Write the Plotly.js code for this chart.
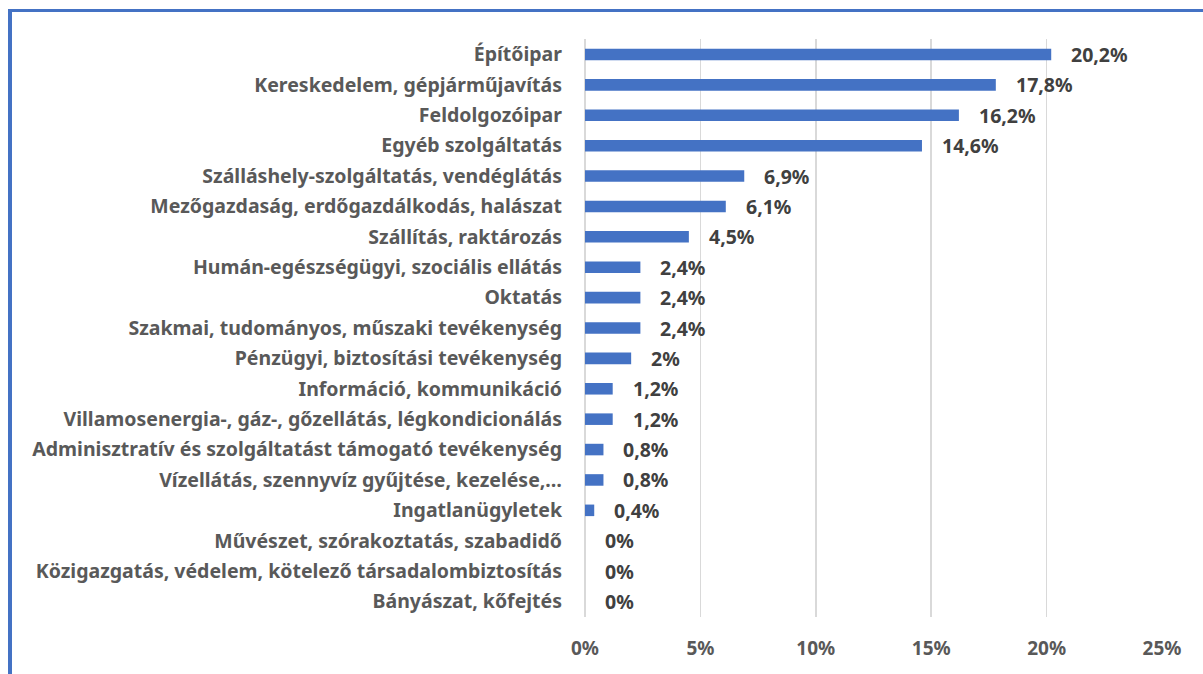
<!DOCTYPE html>
<html>
<head>
<meta charset="utf-8">
<script src="https://cdn.plot.ly/plotly-3.0.1.min.js"></script>
<style>
html,body{margin:0;padding:0;background:#fff;}
#wrap{position:relative;width:1203px;height:674px;overflow:hidden;}
#chart{position:absolute;left:0;top:0;width:1203px;height:674px;}
#btop{position:absolute;left:8px;top:9px;width:1195px;height:0;border-top:3.5px solid #4472C4;}
#bleft{position:absolute;left:8px;top:9px;width:0;height:665px;border-left:4px solid #4472C4;}
</style>
</head>
<body>
<div id="wrap">
<div id="chart"></div>
<div id="btop"></div>
<div id="bleft"></div>
</div>
<script>
const categories = [
  "Építőipar",
  "Kereskedelem, gépjárműjavítás",
  "Feldolgozóipar",
  "Egyéb szolgáltatás",
  "Szálláshely-szolgáltatás, vendéglátás",
  "Mezőgazdaság, erdőgazdálkodás, halászat",
  "Szállítás, raktározás",
  "Humán-egészségügyi, szociális ellátás",
  "Oktatás",
  "Szakmai, tudományos, műszaki tevékenység",
  "Pénzügyi, biztosítási tevékenység",
  "Információ, kommunikáció",
  "Villamosenergia-, gáz-, gőzellátás, légkondicionálás",
  "Adminisztratív és szolgáltatást támogató tevékenység",
  "Vízellátás, szennyvíz gyűjtése, kezelése,…",
  "Ingatlanügyletek",
  "Művészet, szórakoztatás, szabadidő",
  "Közigazgatás, védelem, kötelező társadalombiztosítás",
  "Bányászat, kőfejtés"
];
const values = [20.2, 17.8, 16.2, 14.6, 6.9, 6.1, 4.5, 2.4, 2.4, 2.4, 2.0, 1.2, 1.2, 0.8, 0.8, 0.4, 0, 0, 0];
const valueLabels = ["20,2%","17,8%","16,2%","14,6%","6,9%","6,1%","4,5%","2,4%","2,4%","2,4%","2%","1,2%","1,2%","0,8%","0,8%","0,4%","0%","0%","0%"];
const tickVals = [0,5,10,15,20,25];
const tickText = ["0%","5%","10%","15%","20%","25%"];

const FONT = "Noto Sans, DejaVu Sans, sans-serif";

const trace = {
  type: "bar",
  orientation: "h",
  x: values,
  y: categories,
  marker: {color: "#4472C4"},
  hoverinfo: "skip"
};

const annotations = values.map((v, i) => ({
  x: v, y: categories[i], xref: "x", yref: "y",
  text: "<b>" + valueLabels[i] + "</b>",
  showarrow: false, xanchor: "left", yanchor: "middle", xshift: 18,
  font: {family: FONT, size: 19.5, color: "#404040"}
}));

const layout = {
  width: 1203, height: 674,
  margin: {l: 585, r: 41, t: 39, b: 57},
  paper_bgcolor: "#ffffff",
  plot_bgcolor: "#ffffff",
  showlegend: false,
  bargap: 0.62,
  xaxis: {
    range: [0, 25],
    tickvals: tickVals,
    ticktext: tickText.map(t => "<b>" + t + "</b>"),
    showgrid: true,
    gridcolor: "#d9d9d9",
    gridwidth: 1.5,
    zeroline: true,
    zerolinecolor: "#d9d9d9",
    zerolinewidth: 1.5,
    showline: false,
    ticks: "",
    ticklabelstandoff: 18,
    tickfont: {family: FONT, size: 19, color: "#595959"}
  },
  yaxis: {
    autorange: "reversed",
    categoryorder: "array",
    categoryarray: categories,
    showgrid: false,
    zeroline: false,
    showline: false,
    ticks: "",
    ticklabelstandoff: 22,
    tickfont: {family: FONT, size: 19.5, color: "#595959"},
    tickprefix: "<b>",
    ticksuffix: "</b>"
  },
  annotations: annotations
};

Plotly.newPlot("chart", [trace], layout, {displayModeBar: false, staticPlot: true});
</script>
</body>
</html>
